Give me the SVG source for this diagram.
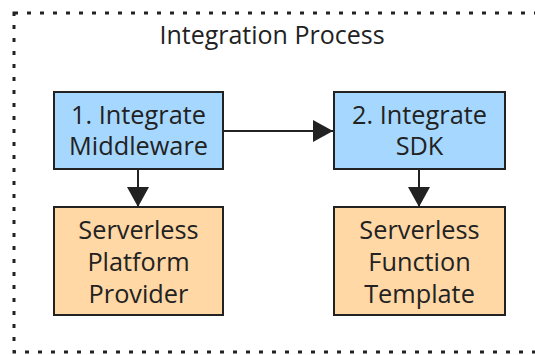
<svg xmlns="http://www.w3.org/2000/svg" width="535" height="355" viewBox="0 0 535 355">
<defs>
<style>
.frame{fill:none;stroke:#222;stroke-width:3;stroke-dasharray:4 9}
.step{fill:#a6d8ff;stroke:#222;stroke-width:2}
.out{fill:#ffd8a6;stroke:#222;stroke-width:2}
.lbl{font-family:"Open Sans","Noto Sans",sans-serif;font-size:25.3px;fill:#222;text-anchor:middle}
.title{font-family:"Open Sans","Noto Sans",sans-serif;font-size:25px;fill:#222;text-anchor:middle}
.conn{stroke:#222;stroke-width:2;fill:none}
</style>
<marker id="ah" viewBox="0 0 20 22" refX="20" refY="11" markerWidth="20" markerHeight="22" markerUnits="userSpaceOnUse" orient="auto">
<path d="M0,0 L20,11 L0,22 Z" fill="#222"/>
</marker>
</defs>
<g id="frame">
<rect class="frame" x="14" y="13" width="540" height="339"/>
<text class="title" x="272" y="44">Integration Process</text>
</g>
<g id="connectors">
<line class="conn" x1="224" y1="131" x2="333" y2="131" marker-end="url(#ah)"/>
<line class="conn" x1="138" y1="169" x2="138" y2="207" marker-end="url(#ah)"/>
<line class="conn" x1="419" y1="169" x2="419" y2="207" marker-end="url(#ah)"/>
</g>
<g id="n1">
<rect class="step" x="54" y="92" width="169" height="77"/>
<text class="lbl" x="138.5" y="124">1. Integrate</text>
<text class="lbl" x="138.5" y="155">Middleware</text>
</g>
<g id="n2">
<rect class="step" x="334" y="92" width="171" height="77"/>
<text class="lbl" x="419.5" y="124">2. Integrate</text>
<text class="lbl" x="419.5" y="155">SDK</text>
</g>
<g id="n3">
<rect class="out" x="54" y="207" width="169" height="108"/>
<text class="lbl" x="138.5" y="239">Serverless</text>
<text class="lbl" x="138.5" y="271">Platform</text>
<text class="lbl" x="138.5" y="303">Provider</text>
</g>
<g id="n4">
<rect class="out" x="334" y="207" width="171" height="108"/>
<text class="lbl" x="419.5" y="239">Serverless</text>
<text class="lbl" x="419.5" y="271">Function</text>
<text class="lbl" x="419.5" y="303">Template</text>
</g>
</svg>
